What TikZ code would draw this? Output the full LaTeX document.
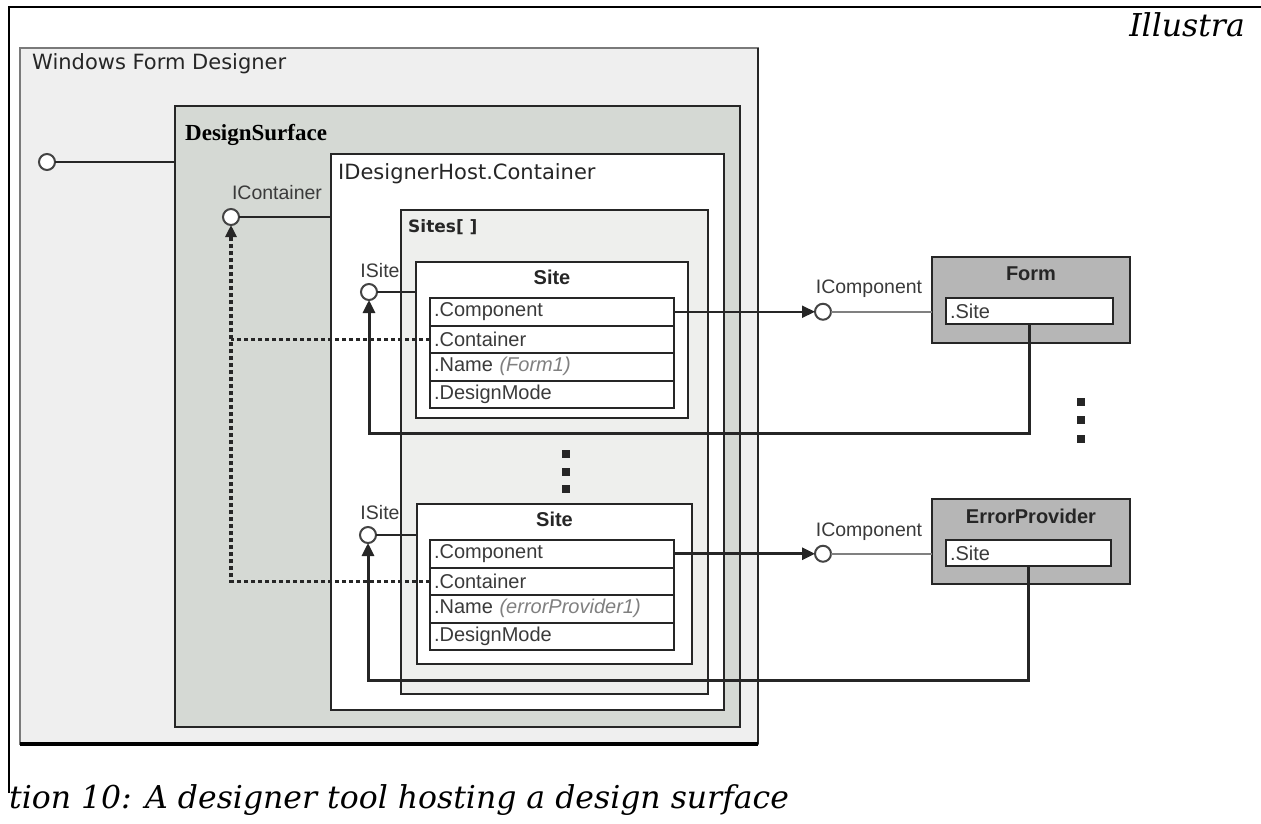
\documentclass[tikz,border=0pt]{standalone}
\usepackage{fontspec}
\setmainfont{DejaVu Serif}
\newfontfamily\uiFont{Liberation Sans}
\newfontfamily\winFont{DejaVu Sans}
\newfontfamily\titleFont{Liberation Serif}
\usepackage{xcolor}
\definecolor{lineDark}{HTML}{262626}
\definecolor{wfdEdge}{HTML}{7A7A7A}
\definecolor{wfdColor}{HTML}{EFEFEF}
\definecolor{surfaceColor}{HTML}{D5D9D4}
\definecolor{sitesColor}{HTML}{EEEFED}
\definecolor{compColor}{HTML}{B6B6B6}
\definecolor{textGray}{HTML}{3A3A3A}
\definecolor{portEdge}{HTML}{444444}
\usepackage{tikz}
\usetikzlibrary{positioning,calc,arrows.meta}
\tikzset{
  plainBox/.style={
    rectangle,
    draw=lineDark,
    line width=2pt,
    inner sep=0pt,
    outer sep=0pt,
    anchor=north west
 },
  siteBox/.style={
    plainBox,
    fill=white
 },
  compBox/.style={
    plainBox,
    fill=compColor
 },
  fieldRow/.style={
    rectangle,
    draw=lineDark,
    line width=2pt,
    fill=white,
    outer sep=0pt,
    text width=236pt,
    inner xsep=4pt,
    inner ysep=0pt,
    minimum height=27.5pt,
    align=left,
    font=\uiFont\fontsize{20}{23}\selectfont,
    text=textGray
 },
  compField/.style={
    fieldRow,
    text width=159pt,
    minimum height=26pt
 },
  portCircle/.style={
    circle,
    draw=portEdge,
    line width=2pt,
    fill=white,
    minimum size=16pt,
    inner sep=0pt,
    outer sep=0pt
 },
  labelText/.style={inner sep=0pt, font=\uiFont\fontsize{19.5}{22}\selectfont, text=textGray},
  boldTitle/.style={inner sep=0pt, font=\uiFont\bfseries\fontsize{20}{24}\selectfont, text=lineDark},
  winTitle/.style={inner sep=0pt, font=\winFont\fontsize{21}{25}\selectfont, text=lineDark},
  surfaceTitle/.style={inner sep=0pt, font=\titleFont\bfseries\fontsize{23}{27}\selectfont, text=black},
  sitesTitle/.style={inner sep=0pt, font=\winFont\bfseries\fontsize{17}{20}\selectfont, text=lineDark},
  capText/.style={inner sep=0pt, font=\itshape\fontsize{31.5}{36}\selectfont, text=black},
  thinLine/.style={draw=lineDark, line width=2pt},
  faintLine/.style={draw=gray, line width=1.5pt},
  arrowLine/.style={
    -{Triangle[length=13pt,width=12pt]},
    draw=lineDark,
    line width=2pt
 },
  returnLine/.style={arrowLine, line width=3pt},
  dotLine/.style={draw=lineDark, line width=3.5pt, dash pattern=on 4pt off 3pt},
  dotMark/.style={rectangle, fill=lineDark, minimum size=8pt, inner sep=0pt},
  frameLine/.style={draw=black, line width=1.5pt}
}

\begin{document}
\begin{tikzpicture}[x=1pt, y=-1pt]
  \useasboundingbox (0,0) rectangle (1261,823);

  % page frame and caption
  \draw[frameLine] (9,793) -- (9,7) -- (1261,7);
  \node[capText, anchor=base east] (illus) at (1245,36) {Illustra};
  \node[capText, anchor=base west] (caption) at (9,808) {tion 10: A designer tool hosting a design surface};

  % nested containers
  \node[plainBox, draw=wfdEdge, fill=wfdColor, minimum width=738pt, minimum height=696pt] (wfd) at (20,48) {};
  \draw[line width=2pt, lineDark] (wfd.north east) -- (wfd.south east);
  \draw[line width=4pt, black] (wfd.south west) -- (wfd.south east);
  \node[winTitle, anchor=base west] (wfdTitle) at (32,69) {Windows Form Designer};

  \node[plainBox, fill=surfaceColor, minimum width=565pt, minimum height=621pt] (surface) at (175,106) {};
  \node[surfaceTitle, anchor=base west] (surfaceTitle) at (185,140) {DesignSurface};

  \node[plainBox, fill=white, minimum width=393pt, minimum height=556pt] (host) at (331,154) {};
  \node[winTitle, anchor=base west] (hostTitle) at (338,179) {IDesignerHost.Container};

  \node[plainBox, fill=sitesColor, minimum width=307pt, minimum height=484pt] (sites) at (401,210) {};
  \node[sitesTitle, anchor=base west] (sitesTitle) at (408,232) {Sites[ ]};

  % first site
  \node[siteBox, minimum width=272pt, minimum height=156pt] (site1) at (416,262) {};
  \node[boldTitle, below=8pt of site1.north] (site1Title) {Site};
  \node[fieldRow, anchor=north west] (s1comp) at (430,298) {.Component};
  \node[fieldRow, below=0pt of s1comp] (s1cont) {.Container};
  \node[fieldRow, below=0pt of s1cont] (s1name) {.Name {\color{gray}\itshape (Form1)}};
  \node[fieldRow, below=0pt of s1name] (s1mode) {.DesignMode};

  % second site
  \node[siteBox, minimum width=275pt, minimum height=160pt] (site2) at (417,504) {};
  \node[boldTitle, below=8pt of site2.north] (site2Title) {Site};
  \node[fieldRow, anchor=north west] (s2comp) at (430,540) {.Component};
  \node[fieldRow, below=0pt of s2comp] (s2cont) {.Container};
  \node[fieldRow, below=0pt of s2cont] (s2name) {.Name {\color{gray}\itshape (errorProvider1)}};
  \node[fieldRow, below=0pt of s2name] (s2mode) {.DesignMode};

  \foreach \n/\y in {1/454,2/472,3/489}
    \node[dotMark] (midDot\n) at (566,\y) {};

  % components
  \node[compBox, minimum width=198pt, minimum height=86pt] (form) at (932,257) {};
  \node[boldTitle, below=10pt of form.north] (formTitle) {Form};
  \node[compField, anchor=north west] (formSite) at (946,298) {.Site};

  \node[compBox, minimum width=198pt, minimum height=85pt] (errProv) at (932,499) {};
  \node[boldTitle, below=10pt of errProv.north] (errTitle) {ErrorProvider};
  \node[compField, anchor=north west, text width=157pt] (errSite) at (946,540) {.Site};

  \foreach \n/\y in {1/402,2/420,3/439}
    \node[dotMark] (sideDot\n) at (1081,\y) {};

  % interfaces
  \node[portCircle] (wfdPort) at (47,162) {};
  \node[portCircle] (icont) at (231,217) {};
  \node[labelText] (icontLbl) at (277,193) {IContainer};
  \node[portCircle] (isite1) at (369,292) {};
  \node[labelText] (isite1Lbl) at (380,271) {ISite};
  \node[portCircle] (isite2) at (368,535) {};
  \node[labelText] (isite2Lbl) at (380,513) {ISite};
  \node[portCircle] (icomp1) at (823,311.75) {};
  \node[labelText] (icomp1Lbl) at (869,289) {IComponent};
  \node[portCircle] (icomp2) at (823,553.75) {};
  \node[labelText] (icomp2Lbl) at (869,532) {IComponent};

  \draw[thinLine] (wfdPort) -- (wfdPort -| surface.west);
  \draw[thinLine] (icont) -- (icont -| host.west);
  \draw[thinLine] (isite1) -- (isite1 -| site1.west);
  \draw[thinLine] (isite2) -- (isite2 -| site2.west);

  \draw[arrowLine] (s1comp.east) -- (icomp1);
  \draw[returnLine] (s2comp.east) -- (icomp2);
  \draw[faintLine] (icomp1) -- (icomp1 -| form.west);
  \draw[faintLine] (icomp2) -- (icomp2 -| errProv.west);

  \draw[returnLine] (formSite.south) -- ++(0,109) -| (isite1.south);
  \draw[returnLine] (errSite.south) -- ++(0,114) -| (isite2.south);

  \draw[dotLine] (s1cont.west) -- (s1cont.west -| icont.south);
  \draw[dotLine, -{Triangle[length=12pt,width=11pt]}] (s2cont.west) -| (icont.south);

\end{tikzpicture}
\end{document}
